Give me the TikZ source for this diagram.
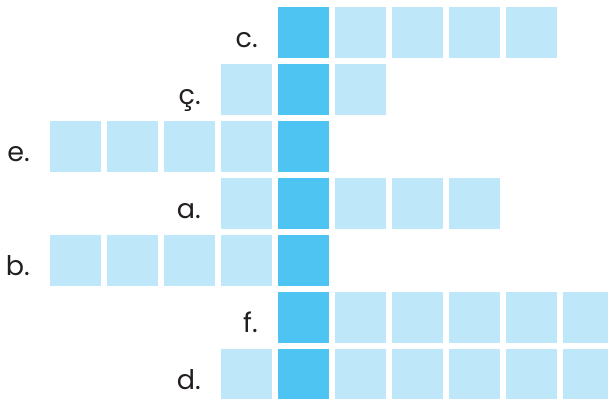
\documentclass[tikz,border=0pt]{standalone}
\usepackage{fontspec}
\setmainfont{Poppins}
\definecolor{darkcell}{RGB}{77,196,241}
\definecolor{lightcell}{RGB}{190,231,249}
\definecolor{labelcol}{RGB}{35,31,32}
\tikzset{
  cellbox/.style={minimum width=50.5pt,minimum height=50.5pt,inner sep=0pt,outer sep=0pt,draw=none},
  lightbox/.style={cellbox,fill=lightcell},
  darkbox/.style={cellbox,fill=darkcell},
  lab/.style={anchor=base east,inner sep=0pt,text=labelcol,font=\fontsize{27}{30}\selectfont}
}
\begin{document}
\begin{tikzpicture}[x=1pt,y=-1pt]
\useasboundingbox (0,0) rectangle (608,399);
\clip (0,0) rectangle (608,399);
\foreach \r/\a/\b/\lbl in {0/0/4/c.,1/-1/1/ç.,2/-4/0/e.,3/-1/3/a.,4/-4/0/b.,5/0/5/f.,6/-1/5/d.}{
  \foreach \k in {\a,...,\b}{
    \ifnum\k=0
      \node[darkbox] (r\r c\k) at ({303.25+57*\k},{32.25+57*\r}) {};
    \else
      \node[lightbox] (r\r c\k) at ({303.25+57*\k},{32.25+57*\r}) {};
    \fi
  }
  \node[lab] (l\r) at ({278+57*\a-20},{32.25+57*\r+15}) {\lbl};
}
\end{tikzpicture}
\end{document}
